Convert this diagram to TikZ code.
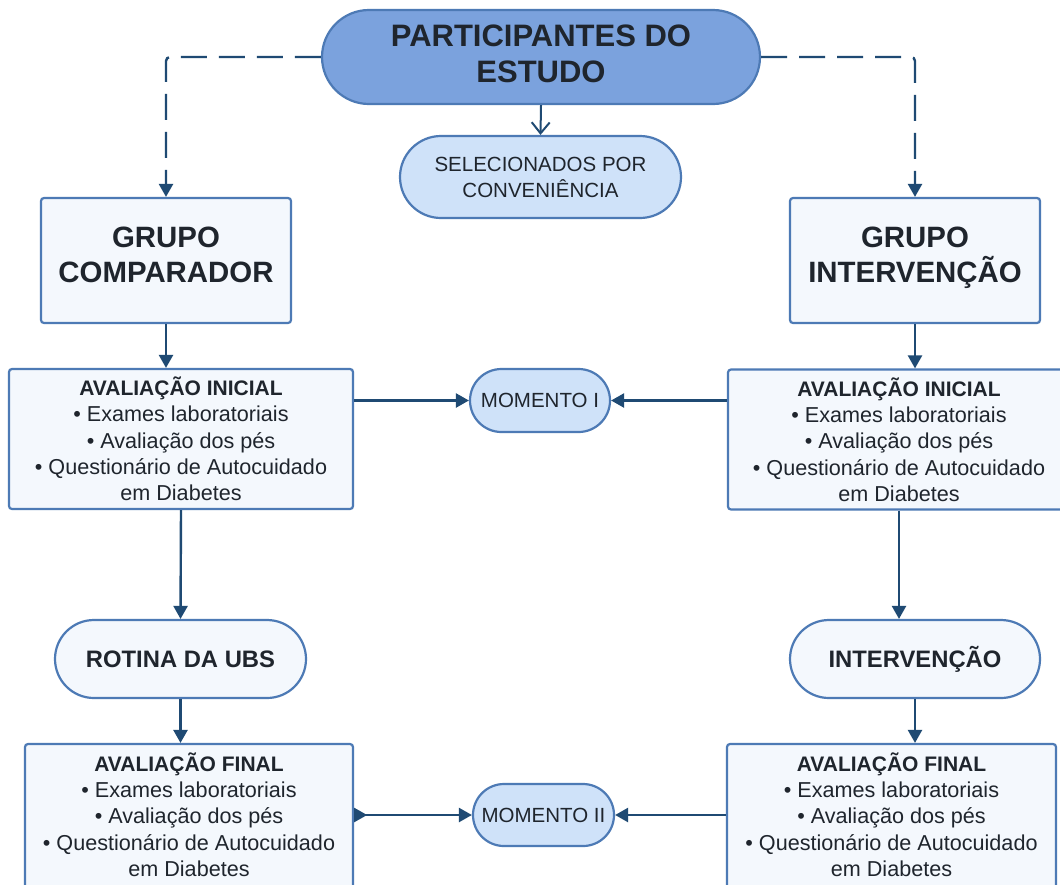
\documentclass[tikz,border=0pt]{standalone}
\usepackage{fontspec}
\setmainfont{Liberation Sans}
\usetikzlibrary{shapes.misc,arrows.meta}
\definecolor{azulborda}{HTML}{4D7AB5}
\definecolor{azulforte}{HTML}{7BA2DD}
\definecolor{azulclaro}{HTML}{CFE2F9}
\definecolor{azulfundo}{HTML}{F4F8FD}
\definecolor{azulseta}{HTML}{1F4A73}
\definecolor{texto}{HTML}{1F252D}

\begin{document}
\begin{tikzpicture}[x=1pt,y=-1pt,
  caixa/.style={draw=azulborda,line width=2.2pt,fill=azulfundo,rounded corners=3pt,align=center,text=texto,inner sep=0pt},
  pilula/.style={rounded rectangle,draw=azulborda,line width=2.2pt,align=center,text=texto,inner sep=0pt},
  seta/.style={azulseta,line width=2.4pt,-{Triangle[length=13pt,width=14pt]}},
  tracejada/.style={seta,dash pattern=on 26pt off 12pt,rounded corners=4pt},
  grande/.style={font=\fontsize{31}{36}\selectfont\bfseries,text depth=6pt},
  grupo/.style={font=\fontsize{29.4}{35}\selectfont\bfseries,text depth=11pt},
  etapa/.style={font=\fontsize{23.8}{28}\selectfont\bfseries},
  itens/.style={font=\fontsize{21.6}{26.3}\selectfont},
  pequena/.style={font=\fontsize{20.5}{26}\selectfont}]
\useasboundingbox (0,0) rectangle (1060,884);
\fill[white] (0,0) rectangle (1060,884);
\clip (0,0) rectangle (1060,884);
%\draw [lightgray](0,0) grid[step=50] (1060,884);

\node[pilula,grande,fill=azulforte,minimum width=438pt,minimum height=94pt] (participantes) at (541,57) {PARTICIPANTES DO\\ESTUDO};
\node[pilula,pequena,fill=azulclaro,minimum width=281pt,minimum height=82pt] (selecionados) at (540.5,177) {SELECIONADOS POR\\CONVENIÊNCIA};

\node[caixa,grupo,minimum width=250pt,minimum height=125pt] (comparador) at (166,260.5) {GRUPO\\COMPARADOR};
\node[caixa,grupo,minimum width=250pt,minimum height=125pt] (intervencao) at (915,260.5) {GRUPO\\INTERVENÇÃO};

\node[caixa,itens,minimum width=344pt,minimum height=140pt] (inicialA) at (181,439) {{\fontsize{21}{26.3}\selectfont\bfseries AVALIAÇÃO INICIAL}\\• Exames laboratoriais\\• Avaliação dos pés\\• Questionário de Autocuidado\\em Diabetes};
\node[caixa,itens,minimum width=342pt,minimum height=140pt] (inicialB) at (899,439.5) {{\fontsize{21}{26.3}\selectfont\bfseries AVALIAÇÃO INICIAL}\\• Exames laboratoriais\\• Avaliação dos pés\\• Questionário de Autocuidado\\em Diabetes};
\node[pilula,pequena,fill=azulclaro,minimum width=140pt,minimum height=63pt] (momentoI) at (540,400.5) {MOMENTO I};

\node[pilula,etapa,fill=azulfundo,minimum width=251pt,minimum height=78pt] (rotina) at (180.5,659) {ROTINA DA UBS};
\node[pilula,etapa,fill=azulfundo,minimum width=250pt,minimum height=78pt] (interv) at (915,659) {INTERVENÇÃO};

\node[caixa,itens,text depth=9pt,minimum width=328pt,minimum height=150pt] (finalA) at (189,819) {{\fontsize{21}{26.3}\selectfont\bfseries AVALIAÇÃO FINAL}\\• Exames laboratoriais\\• Avaliação dos pés\\• Questionário de Autocuidado\\em Diabetes};
\node[caixa,itens,text depth=9pt,minimum width=329pt,minimum height=150pt] (finalB) at (891.5,819) {{\fontsize{21}{26.3}\selectfont\bfseries AVALIAÇÃO FINAL}\\• Exames laboratoriais\\• Avaliação dos pés\\• Questionário de Autocuidado\\em Diabetes};
\node[pilula,pequena,fill=azulclaro,minimum width=141pt,minimum height=62pt] (momentoII) at (543.5,815) {MOMENTO II};

\draw [tracejada] (participantes.west) -| (comparador.north);
\draw [tracejada] (participantes.east) -| (intervencao.north);
\draw [azulseta,line width=2pt,-{Straight Barb[length=11pt,width=18pt]}] (participantes.south) -- (selecionados.north);

\draw [seta] (comparador.south) -- (comparador.south |- inicialA.north);
\draw [seta] (intervencao.south) -- (intervencao.south |- inicialB.north);
\draw [seta] (inicialA.east |- momentoI) -- (momentoI.west);
\draw [seta] (inicialB.west |- momentoI) -- (momentoI.east);

\draw [seta] (inicialA.south) -- (rotina.north);
\draw [seta] (inicialB.south) -- (inicialB.south |- interv.north);
\draw [seta] (rotina.south) -- (rotina.south |- finalA.north);
\draw [seta] (interv.south) -- (interv.south |- finalB.north);

\draw [seta,{Triangle[reversed,length=13pt,width=14pt]}-{Triangle[length=13pt,width=14pt]}] (finalA.east |- momentoII) -- (momentoII.west);
\draw [seta] (finalB.west |- momentoII) -- (momentoII.east);
\end{tikzpicture}
\end{document}
